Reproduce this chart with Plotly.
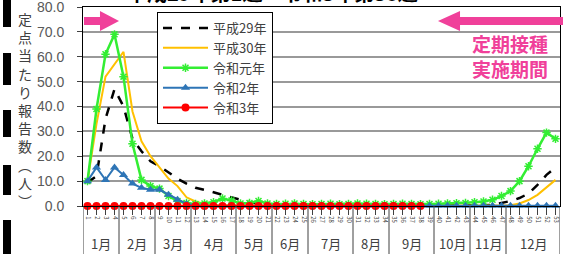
import plotly.graph_objects as go

# ---------------- data ----------------
weeks = list(range(1, 54))
month_labels = ["1月", "2月", "3月", "4月", "5月", "6月", "7月", "8月", "9月", "10月", "11月", "12月"]
month_weeks = [4, 4, 4, 5, 4, 4, 5, 4, 5, 4, 4, 6]

series_names = ["平成29年", "平成30年", "令和元年", "令和2年", "令和3年"]

h29 = [9.5, 12, 35, 47, 40, 27, 22, 18, 16, 13.5, 11, 9, 7.3, 6.5, 5.5, 4.5, 3.5, 2.4, 1.5, 1.0,
       0.6, 0.4, 0.3, 0.2, 0.2, 0.2, 0.1, 0.1, 0.1, 0.1, 0.1, 0.1, 0.1, 0.1, 0.1, 0.1, 0.1, 0.1,
       0.1, 0.1, 0.1, 0.2, 0.2, 0.2, 0.3, 0.5, 1.2, 2.0, 3.2, 5.0, 8.5, 12.5, 15.5]
h30 = [10, 33, 52, 57, 62, 38, 26, 20, 15.5, 11, 8, 3.5, 1.8, 0.8, 0.4, 0.3, 0.2,
       0.1, 0.1, 0.1, 0.1, 0.1, 0.1, 0.1, 0.1, 0.1, 0.1, 0.1, 0.1, 0.1, 0.1, 0.1,
       0.1, 0.1, 0.1, 0.1, 0.1, 0.1, 0.1, 0.1, 0.1, 0.1, 0.1, 0.1, 0.1, 0.1, 0.1,
       0.3, 1.0, 2.4, 4.5, 7.5, 10.5]
r1 = [10, 39, 61, 69, 52, 25, 10.5, 8, 7, 4, 2, 1.2, 0.8, 1.0, 1.5, 3.0, 2.2, 1.0, 1.2, 2.0, 1.0,
      0.8, 0.9, 1.0, 0.8, 0.7, 0.8, 0.9, 0.7, 0.8, 1.0, 0.9, 0.8, 0.7, 0.8, 0.9, 0.8, 0.7, 0.8,
      0.9, 1.0, 1.1, 1.2, 1.5, 1.8, 2.5, 4.0, 6.0, 10, 16, 23, 29.5, 27]
r2 = [10, 15.5, 10.5, 15.5, 12.5, 9, 7.3, 6.5, 6.5, 4.5, 2.5, 0.8, 0.3,
      0.1, 0.1, 0.1, 0.1, 0.1, 0.1, 0.1, 0.1, 0.1, 0.1, 0.1, 0.1, 0.1, 0.1, 0.1, 0.1, 0.1, 0.1,
      0.1, 0.1, 0.1, 0.1, 0.1, 0.1, 0.1, 0.1, 0.1, 0.1, 0.1, 0.1, 0.1, 0.1, 0.1, 0.1, 0.1, 0.1,
      0.1, 0.1, 0.1, 0.1]
r3 = [0.0, 0.0, 0.0, 0.0, 0.0, 0.0, 0.0, 0.0, 0.0, 0.0, 0.0, 0.0, 0.0, 0.0, 0.0, 0.0, 0.0, 0.0, 0.0,
      0.0, 0.0, 0.0, 0.0, 0.0, 0.0, 0.0, 0.0, 0.0, 0.0, 0.0, 0.0, 0.0, 0.0, 0.0, 0.0, 0.0, 0.0, 0.0]

y_ticks = [0, 10, 20, 30, 40, 50, 60, 70, 80]
title_text = "平成29年第1週～令和3年第38週"
y_title = ["定", "点", "当", "た", "り", "報", "告", "数", "︵", "人", "︶"]
period_text = "定期接種<br>実施期間"

# ---------------- layout helpers ----------------
W, H = 568, 254
L, R, T, B = 83, 8, 7, 48
PW, PH = W - L - R, H - T - B
PINK = "#f0409a"
FONT = "Noto Sans CJK JP"


def px_x(px):
    return (px - L) / PW


def px_y(py):
    return (H - B - py) / PH


def path(points):
    return "M " + " L ".join(f"{px_x(x):.4f},{px_y(y):.4f}" for x, y in points) + " Z"


fig = go.Figure()
fig.add_trace(go.Scatter(x=weeks, y=h29, name=series_names[0], mode="lines",
                         line=dict(color="black", width=2.5, dash="dash")))
fig.add_trace(go.Scatter(x=weeks, y=h30, name=series_names[1], mode="lines",
                         line=dict(color="#ffc000", width=2)))
fig.add_trace(go.Scatter(x=weeks, y=r1, name=series_names[2], mode="lines+markers",
                         line=dict(color="#33ee33", width=2.5),
                         marker=dict(symbol="asterisk-open", size=7, line=dict(color="#33ee33", width=1.5))))
fig.add_trace(go.Scatter(x=weeks, y=r2, name=series_names[3], mode="lines+markers",
                         line=dict(color="#2e75b6", width=2), cliponaxis=False,
                         marker=dict(symbol="triangle-up", size=8, color="#2e75b6")))
fig.add_trace(go.Scatter(x=weeks[:len(r3)], y=r3, name=series_names[4], mode="lines+markers",
                         line=dict(color="#ff0000", width=2), cliponaxis=False,
                         marker=dict(symbol="circle", size=8, color="#ff0000")))

shapes = []
annotations = []

# month dividers and labels
cum = 0
y_bottom = -B / PH
for lab, n in zip(month_labels, month_weeks):
    shapes.append(dict(type="line", xref="x", yref="paper", x0=cum + 0.5, x1=cum + 0.5,
                       y0=0, y1=y_bottom, line=dict(color="#404040", width=1)))
    annotations.append(dict(x=cum + 0.5 + n / 2, y=px_y(243), xref="x", yref="paper",
                            xanchor="center", yanchor="middle",
                            text=lab, showarrow=False, font=dict(size=13, color="#404040", family=FONT)))
    cum += n
shapes.append(dict(type="line", xref="x", yref="paper", x0=cum + 0.5, x1=cum + 0.5,
                   y0=0, y1=y_bottom, line=dict(color="#404040", width=1)))

# arrows
shapes.append(dict(type="path", xref="paper", yref="paper", line=dict(width=0), fillcolor=PINK,
                   path=path([(84, 17), (100, 17), (100, 11), (119, 21), (100, 31), (100, 25), (84, 25)])))
shapes.append(dict(type="path", xref="paper", yref="paper", line=dict(width=0), fillcolor=PINK,
                   path=path([(563, 17), (460, 17), (460, 11), (438, 21), (460, 31), (460, 25), (563, 25)])))

# left black bars
for y0, y1 in [(0, 27), (53, 85), (110, 137), (165, 195), (220, 254)]:
    shapes.append(dict(type="rect", xref="paper", yref="paper", x0=px_x(3), x1=px_x(11),
                       y0=px_y(y1), y1=px_y(y0), fillcolor="black", line=dict(width=0)))

annotations.append(dict(x=px_x(510), y=px_y(56), xref="paper", yref="paper", text=period_text,
                        xanchor="center", yanchor="middle",
                        showarrow=False, font=dict(size=19, color=PINK, family=FONT, weight="bold"),
                        align="center"))
annotations.append(dict(x=px_x(25), y=px_y(110), xref="paper", yref="paper",
                        xanchor="center", yanchor="middle",
                        text="<br>".join(y_title), showarrow=False,
                        font=dict(size=14, color="#404040", family=FONT)))
annotations.append(dict(x=px_x(272), y=px_y(-8), xref="paper", yref="paper", text=title_text,
                        xanchor="center", yanchor="middle",
                        showarrow=False, font=dict(size=20, color="black", family=FONT, weight="bold")))

fig.update_layout(
    width=W, height=H, margin=dict(l=L, r=R, t=T, b=B, autoexpand=False),
    plot_bgcolor="white", paper_bgcolor="white",
    font=dict(family=FONT, color="#404040"),
    showlegend=True,
    legend=dict(x=px_x(157), y=px_y(12), xanchor="left", yanchor="top", xref="paper", yref="paper",
                bgcolor="white", bordercolor="black", borderwidth=1,
                font=dict(size=13, color="#404040", family=FONT), itemwidth=45,
                tracegroupgap=0),
    shapes=shapes, annotations=annotations,
    xaxis=dict(range=[0.5, 53.5], tickvals=weeks, ticktext=[str(w) for w in weeks],
               tickangle=90, tickfont=dict(size=6, color="#404040"),
               ticks="outside", ticklen=8, tickcolor="#404040", automargin=False,
               showgrid=False, showline=True, linecolor="black", mirror=True, zeroline=False),
    yaxis=dict(range=[0, 80], tickvals=y_ticks, tickformat=".1f", automargin=False,
               tickfont=dict(size=14, color="#595959", family="Liberation Sans"),
               ticks="outside", ticklen=5, tickcolor="#404040", ticklabelstandoff=10,
               ticklabeloverflow="allow",
               showgrid=True, gridcolor="#999999", gridwidth=1.5,
               showline=True, linecolor="black", mirror=True, zeroline=False),
)

fig.write_html("out.html", config={"displayModeBar": False},
               post_script="document.body.style.margin='0';document.body.style.overflow='hidden';")
